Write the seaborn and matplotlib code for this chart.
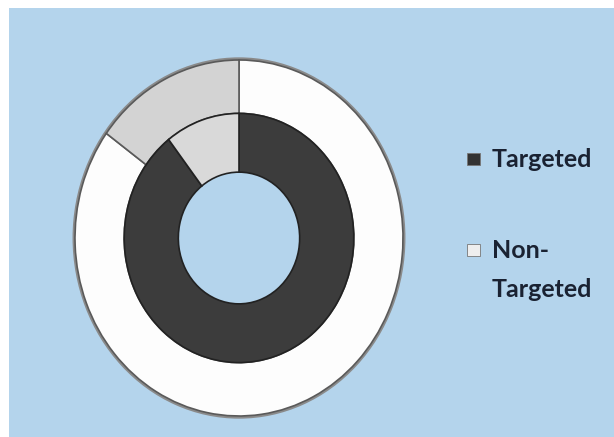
import matplotlib
matplotlib.use("Agg")
import matplotlib.pyplot as plt
from matplotlib.patches import Rectangle
import seaborn as sns

categories = ["Targeted", "Non-Targeted"]
outer_values = [85, 15]   # outer ring
inner_values = [89.5, 10.5]   # inner ring

sns.set_theme(style="white")
plt.rcParams['font.family'] = ['Lato', 'DejaVu Sans']

W, H = 614, 437
bg = "#b4d4ec"
fig = plt.figure(figsize=(W / 100, H / 100), dpi=100, facecolor="white")
# blue plot area (white strip left and top like the screenshot)
fig.patches.append(Rectangle((9 / W, 0), 1, (H - 8) / H, transform=fig.transFigure,
                             facecolor=bg, edgecolor="none", zorder=-5))

ax = fig.add_axes([(239 - 164) / W, 21 / H, 328 / W, 356 / H])
ax.patch.set_alpha(0)

outer_colors = ["#fdfdfd", "#d3d3d3"]
inner_colors = ["#3c3c3c", "#d9d9d9"]

# soft grey rim behind the outer ring
ax.pie([1], radius=1.015, colors=["#8a8a8a"], wedgeprops=dict(width=0.05, linewidth=0))
ax.pie(outer_values, radius=1.0, colors=outer_colors, startangle=90, counterclock=False,
       wedgeprops=dict(width=0.30, edgecolor="#5a5a5a", linewidth=1.2))
ax.pie(inner_values, radius=0.70, colors=inner_colors, startangle=90, counterclock=False,
       wedgeprops=dict(width=0.33, edgecolor="#222222", linewidth=1.2))
ax.set_aspect("auto")
ax.set_xlim(-1.0, 1.0)
ax.set_ylim(-1.0, 1.0)
ax.axis("off")

# legend drawn by hand so the marker sits on the first line of "Non-Targeted"
txt_color = "#1a2232"
marker_colors = ["#333333", "#eeeeee"]
marker_y = [159, 250]
for c, y in zip(marker_colors, marker_y):
    fig.patches.append(Rectangle((467 / W, 1 - (y + 6) / H), 13 / W, 12 / H,
                                 transform=fig.transFigure, facecolor=c,
                                 edgecolor="#777777", linewidth=0.6))
lines = [("Targeted", 167), ("Non-", 258), ("Targeted", 297)]
for s, base in lines:
    fig.text(492 / W, 1 - base / H, s, fontsize=18, color=txt_color,
             fontweight="bold", ha="left", va="baseline")

fig.savefig("out.png", dpi=100, facecolor="white")
